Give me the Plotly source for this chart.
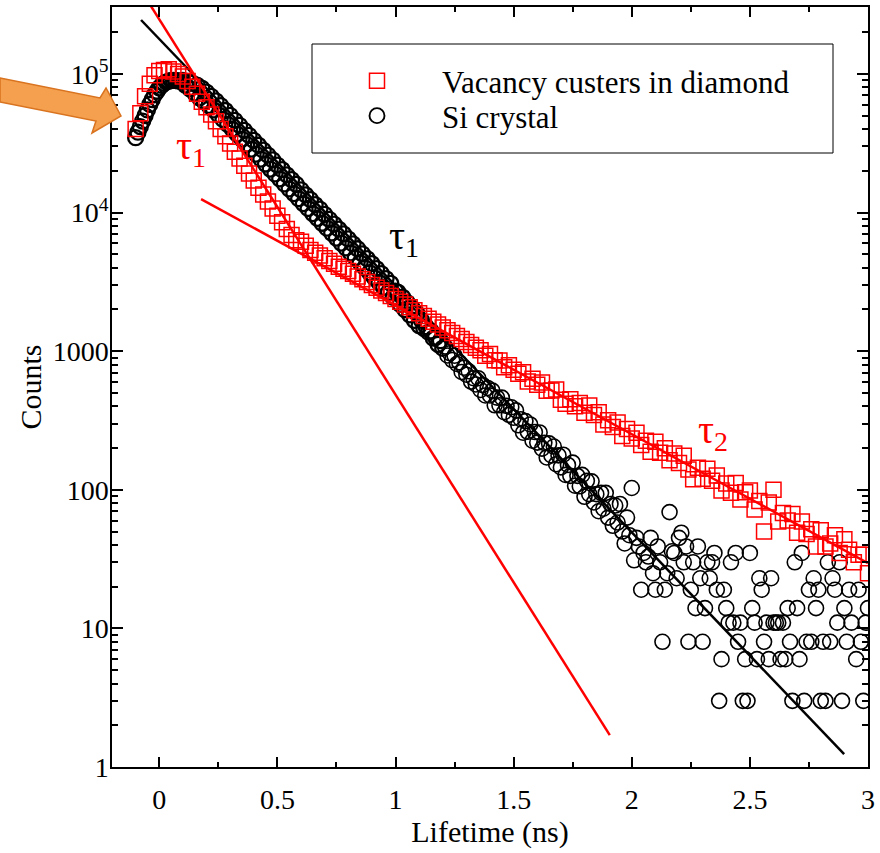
import plotly.graph_objects as go

# ---------------- data ----------------
# time channels (ns): red series every 0.02 ns, black series every 0.01 ns
VAC_T0, VAC_DT = -0.10, 0.02
SI_T0, SI_DT = -0.10, 0.01

vac_counts = [
    40000, 52000, 69000, 85000, 98000, 105000, 107000, 108000, 104000, 100000,
    96000, 89000, 81000, 72000, 63000, 57500, 51000, 45500, 40000, 35500,
    31500, 27500, 24500, 21800, 19100, 17000, 15100, 13500, 12000, 10700,
    9500, 8500, 7600, 6900, 6300, 6150, 5750, 5370, 5130, 4900,
    4680, 4470, 4270, 4070, 3940, 3785, 3620, 3450, 3300, 3150,
    3005, 2870, 2735, 2625, 2500, 2380, 2275, 2170, 2070, 1970,
    1880, 1795, 1710, 1630, 1555, 1480, 1415, 1350, 1285, 1225,
    1165, 1110, 1060, 1015, 927, 953, 861, 855, 764, 793,
    735, 687, 705, 603, 632, 573, 594, 519, 521, 528,
    446, 418, 449, 401, 422, 360, 405, 346, 363, 296,
    318, 284, 306, 244, 274, 234, 258, 210, 226, 188,
    222, 185, 199, 163, 183, 156, 176, 140, 119, 144,
    120, 142, 116, 127, 99, 111, 95, 112, 85, 96,
    99, 72, 83, 50, 81, 100, 59, 68, 60, 67,
    49, 59, 48, 52, 39, 51, 39, 41, 47, 35,
    44, 37, 30, 34, 34, 25,
]

si_counts = [
    34700, 38000, 41700, 45700, 50100, 55000, 60300, 65300, 70800, 75000,
    79400, 82800, 85500, 87500, 88900, 89700, 89900, 89700, 89100, 88300,
    89700, 83100, 88300, 78100, 86000, 72800, 83100, 67300, 79000, 63200,
    74000, 59200, 69000, 55000, 63900, 50800, 59100, 47000, 54500, 43300,
    50300, 39900, 46300, 36800, 42600, 33900, 39200, 31100, 36100, 28700,
    33200, 26400, 30600, 24300, 28200, 22400, 26000, 20600, 24000, 19000,
    22000, 17500, 20400, 16100, 18700, 14800, 17300, 13700, 16000, 12600,
    14600, 11600, 13400, 10700, 12400, 9830, 11400, 9080, 10600, 8370,
    9710, 7710, 8940, 7120, 8250, 6540, 7590, 6020, 7010, 5560,
    6450, 5110, 5940, 4720, 5480, 4350, 5040, 4000, 4650, 3690,
    4280, 3390, 3940, 3130, 3630, 2880, 3340, 2660, 3080, 2450,
    2710, 2670, 2180, 2450, 1990, 2240, 1830, 2050, 1670, 1880,
    1530, 1670, 1460, 1500, 1370, 1400, 1240, 1260, 1120, 1190,
    1050, 1080, 931, 966, 863, 927, 809, 830, 708, 760,
    676, 716, 603, 638, 575, 638, 525, 569, 479, 543,
    479, 519, 407, 462, 407, 462, 363, 403, 347, 394,
    331, 374, 292, 323, 258, 313, 262, 296, 226, 261,
    219, 259, 198, 218, 171, 216, 177, 205, 153, 177,
    145, 179, 128, 151, 126, 157, 107, 126, 106, 128,
    89, 116, 93, 115, 81, 93, 70, 95, 73, 95,
    63, 79, 55, 77, 58, 79, 50, 41, 63, 47,
    103, 31, 45, 39, 19, 35, 30, 33, 45, 25,
    19, 39, 30, 8, 19, 25, 69, 36, 35, 23,
    45, 49, 30, 39, 8, 19, 30, 14, 39, 23,
    8, 14, 30, 23, 30, 35, 19, 3, 6, 19,
    14, 11, 30, 11, 35, 8, 11, 3, 6, 3,
    35, 14, 11, 6, 23, 19, 8, 11, 6, 23,
    11, 11, 11, 6, 11, 6, 14, 8, 3, 30,
    14, 6, 35, 3, 8, 19, 8, 23, 14, 19,
    3, 8, 3, 30, 8, 23, 19, 11, 30, 3,
    14, 8, 19, 11, None, 6, 19, 8, 3, 11,
    14,
]

vac_t = [round(VAC_T0 + VAC_DT * i, 3) for i in range(len(vac_counts))]
si_t = [round(SI_T0 + SI_DT * i, 3) for i in range(len(si_counts))]

# hand-drawn exponential fit lines (endpoints)
fit_si_t = [-0.077, 2.899]
fit_si_c = [245000, 1.24]
fit_vac1_t = [-0.04, 1.907]
fit_vac1_c = [318000, 1.70]
fit_vac2_t = [0.177, 3.0]
fit_vac2_c = [12500, 29.6]

x_tickvals = [0, 0.5, 1, 1.5, 2, 2.5, 3]
x_ticktext = ["0", "0.5", "1", "1.5", "2", "2.5", "3"]
y_tickvals = [1, 10, 100, 1000, 1e4, 1e5]
y_ticktext = ["1", "10", "100", "1000", "10<sup>4</sup>", "10<sup>5</sup>"]

FONT = "Liberation Serif, Times New Roman, serif"
RED = "#ff0000"

# dense early part of the Si curve is drawn with slightly heavier rings
si_ring_w = [2.3 if t <= 1.2 else 1.6 for t in si_t]

fig = go.Figure()

fig.add_trace(go.Scatter(x=fit_si_t, y=fit_si_c, mode="lines", showlegend=False,
                         line=dict(color="black", width=2.5)))
fig.add_trace(go.Scatter(
    x=si_t, y=si_counts, mode="markers", name="Si crystal", legend="legend2",
    marker=dict(symbol="circle-open", size=15, color="black",
                line=dict(width=si_ring_w, color="black")),
))
fig.add_trace(go.Scatter(
    x=vac_t, y=vac_counts, mode="markers", name="Vacancy custers in diamond", legend="legend",
    marker=dict(symbol="square-open", size=15, color=RED, line=dict(width=1.5, color=RED)),
))
fig.add_trace(go.Scatter(x=fit_vac1_t, y=fit_vac1_c, mode="lines", showlegend=False,
                         line=dict(color=RED, width=2.5)))
fig.add_trace(go.Scatter(x=fit_vac2_t, y=fit_vac2_c, mode="lines", showlegend=False,
                         line=dict(color=RED, width=2.5)))

# plot-area geometry in pixels (for paper-coordinate shapes)
L, R, T, B = 112, 868, 7, 767
W, H = R - L, B - T


def px(x, y):
    return (x - L) / W, (B - y) / H


# orange block arrow at the left
arrow_px = [(0, 78), (100, 98), (106, 88), (121, 116), (92, 133), (96, 121), (0, 102)]
pts = [px(x, y) for x, y in arrow_px]
path = "M " + " L ".join(f"{a:.4f},{b:.4f}" for a, b in pts) + " Z"
fig.add_shape(type="path", path=path, xref="paper", yref="paper",
              fillcolor="#F4A04E", line=dict(color="#D9731F", width=1.5), layer="above")

# legend frame
lx0, ly0 = px(312, 153)
lx1, ly1 = px(833, 44)
fig.add_shape(type="rect", xref="paper", yref="paper", x0=lx0, y0=ly0, x1=lx1, y1=ly1,
              line=dict(color="black", width=1), fillcolor="rgba(0,0,0,0)", layer="above")

# tau labels
fig.add_annotation(x=0.135, y=4.466, text="τ<sub>1</sub>", showarrow=False,
                   font=dict(size=40, color=RED, family=FONT))
fig.add_annotation(x=1.034, y=3.817, text="τ<sub>1</sub>", showarrow=False,
                   font=dict(size=40, color="black", family=FONT))
fig.add_annotation(x=2.342, y=2.417, text="τ<sub>2</sub>", showarrow=False,
                   font=dict(size=40, color=RED, family=FONT))

minor_y = [m * 10 ** k for k in range(0, 6) for m in range(2, 10)]

leg_common = dict(xanchor="left", yanchor="top", bgcolor="rgba(0,0,0,0)", borderwidth=0,
                  font=dict(size=31, family=FONT), itemwidth=120, tracegroupgap=0)

fig.update_layout(
    width=880, height=853,
    margin=dict(l=L, r=880 - R, t=T, b=853 - B),
    plot_bgcolor="white", paper_bgcolor="white",
    font=dict(family=FONT, size=28, color="black"),
    legend=dict(x=lx0, y=px(0, 54)[1], **leg_common),
    legend2=dict(x=lx0, y=px(0, 89)[1], **leg_common),
    xaxis=dict(range=[-0.2, 3.0], tickvals=x_tickvals, ticktext=x_ticktext,
               ticks="inside", ticklen=10, tickwidth=1.5, tickcolor="black",
               showline=True, linecolor="black", linewidth=1.5, mirror="ticks",
               showgrid=False, zeroline=False, automargin=False, ticklabelstandoff=7,
               minor=dict(ticks="inside", ticklen=5, tickwidth=1.5, tickcolor="black",
                          dtick=0.25, tick0=0, showgrid=False),
               title=dict(text="Lifetime (ns)", font=dict(size=30), standoff=0)),
    yaxis=dict(type="log", range=[0, 5.483], tickvals=y_tickvals, ticktext=y_ticktext,
               ticks="inside", ticklen=11, tickwidth=1.5, tickcolor="black",
               showline=True, linecolor="black", linewidth=1.5, mirror="ticks",
               showgrid=False, zeroline=False, automargin=False, ticklabelstandoff=-4,
               minor=dict(ticks="inside", ticklen=6, tickwidth=1.5, tickcolor="black",
                          tickvals=minor_y, showgrid=False),
               title=dict(text="Counts", font=dict(size=30), standoff=2)),
)

fig.write_html("out.html", config={"displayModeBar": False},
               post_script="document.body.style.margin='0px';")
